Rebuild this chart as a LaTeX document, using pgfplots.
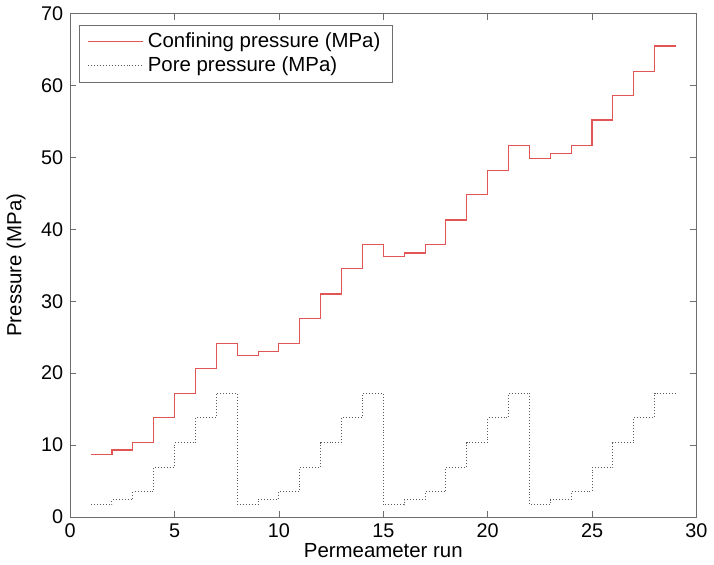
\documentclass[border=0pt]{standalone}
\usepackage{fontspec}
\setmainfont{Liberation Sans}
\usepackage{pgfplots}
\pgfplotsset{compat=1.18}

\definecolor{confred}{RGB}{225,85,85}
\definecolor{poregray}{RGB}{90,90,90}
\definecolor{axgray}{RGB}{110,110,110}

\begin{document}
\begin{tikzpicture}
\begin{axis}[
    scale only axis,
    width=316pt, height=254pt,
    xmin=0, xmax=30, ymin=0, ymax=70,
    xtick={0,5,...,30}, ytick={0,10,...,70},
    tick align=inside,
    major tick length=3pt,
    axis line style={axgray},
    every tick/.style={axgray},
    /pgf/number format/assume math mode=true,
    tick label style={font=\fontsize{10}{11}\selectfont},
    label style={font=\fontsize{10.3}{11}\selectfont},
    xlabel={Permeameter run},
    ylabel={Pressure (MPa)},
    xlabel style={yshift=4pt},
    ylabel style={yshift=1pt},
    legend style={at={(0.014,0.978)}, anchor=north west,
        font=\fontsize{10.3}{12}\selectfont, draw=axgray,
        inner xsep=4pt, inner ysep=2pt, row sep=-1pt},
    legend cell align=left,
    legend image code/.code={\draw[#1] (0pt,0pt) -- (28pt,0pt);},
]
\addplot[const plot, confred, line width=0.55pt] coordinates {
    (1,8.7) (2,9.3) (3,10.4) (4,13.8) (5,17.2) (6,20.7) (7,24.1)
    (8,22.4) (9,23.0) (10,24.1) (11,27.6) (12,31.0) (13,34.5) (14,37.9)
    (15,36.2) (16,36.7) (17,37.9) (18,41.3) (19,44.8) (20,48.2) (21,51.7)
    (22,49.9) (23,50.5) (24,51.7) (25,55.2) (26,58.6) (27,62.0) (28,65.5)
    (29,65.5)
};
\addlegendentry{Confining pressure (MPa)}
\addplot[const plot, poregray, densely dotted, line width=0.5pt] coordinates {
    (1,1.7) (2,2.4) (3,3.5) (4,6.9) (5,10.3) (6,13.8) (7,17.2)
    (8,1.7) (9,2.4) (10,3.5) (11,6.9) (12,10.3) (13,13.8) (14,17.2)
    (15,1.7) (16,2.4) (17,3.5) (18,6.9) (19,10.3) (20,13.8) (21,17.2)
    (22,1.7) (23,2.4) (24,3.5) (25,6.9) (26,10.3) (27,13.8) (28,17.2)
    (29,17.2)
};
\addlegendentry{Pore pressure (MPa)}
\end{axis}
\end{tikzpicture}
\end{document}
